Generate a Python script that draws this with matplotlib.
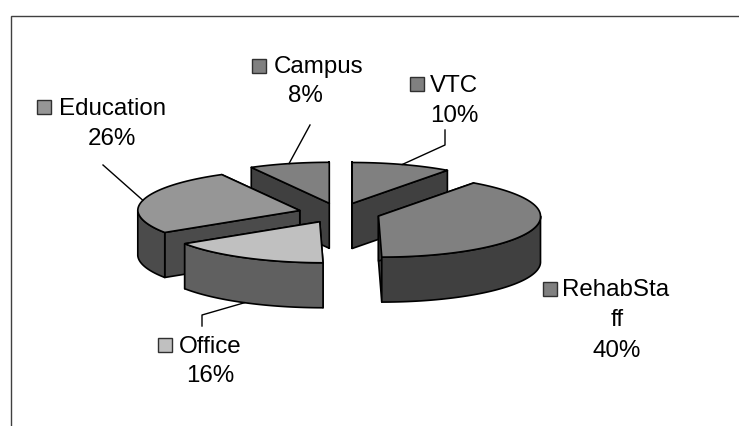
# Exploded 3D pie chart, drawn by hand in pixel coordinates

import matplotlib.pyplot as plt
import numpy as np
from matplotlib.patches import Polygon, Rectangle

plt.rcParams["font.family"] = ["Liberation Sans", "DejaVu Sans"]

# Chart values, clockwise from 12 o'clock
labels = ["VTC", "RehabStaff", "Office", "Education", "Campus"]
shares = [10, 40, 16, 26, 8]

# Colours of the top and the side of each slice
top_colors = ["#808080", "#808080", "#C0C0C0", "#969696", "#808080"]
side_colors = ["#404040", "#404040", "#606060", "#4B4B4B", "#404040"]

# Pie geometry, in pixels
center_x, center_y = 339.5, 213
radius_x, radius_y = 162, 41
explode_x, explode_y = 41, 10
depth = 45
shear = 0.08

# Label layout: marker x/y, text lines, line x, line y, leader elbow points
label_layout = {
    "VTC": ((410, 77), ["10%"], (454, 116), (430, 86), [(445, 145), (445, 130)]),
    "RehabStaff": ((543, 282), ["ff", "40%"], (617, 320), (562, 290), []),
    "Office": ((158, 338), ["16%"], (210, 376), (179, 347), [(202, 315), (202, 326)]),
    "Education": ((37, 100), ["26%"], (112, 139), (59, 109), [(103, 165)]),
    "Campus": ((252, 59), ["8%"], (305, 96), (274, 67), [(310, 125)]),
}
first_lines = {"RehabStaff": "RehabSta"}


def rim_point(apex, angle):
    """Point on the top rim of a slice, angle in degrees clockwise from the top."""
    a = np.radians(angle)
    y = -radius_y * np.cos(a)
    return np.array([apex[0] + radius_x * np.sin(a) + shear * max(y, 0), apex[1] + y])


def draw_face(ax, points, color):
    ax.add_patch(Polygon(points, closed=True, facecolor=color, edgecolor="black",
                         linewidth=1.2, joinstyle="round"))


fig = plt.figure(figsize=(7.39, 4.26), dpi=100)
ax = fig.add_axes([0, 0, 1, 1])
ax.set_xlim(0, 739)
ax.set_ylim(426, 0)
ax.axis("off")

# Chart frame runs off the right and bottom of the picture
ax.add_patch(Rectangle((11, 16), 760, 440, facecolor="white", edgecolor="#404040", linewidth=1))

# Work out the angle range and the exploded apex of each slice
edges = np.concatenate([[0], np.cumsum(shares)]) * 3.6
apexes = []
for i in range(len(shares)):
    mid = np.radians((edges[i] + edges[i + 1]) / 2)
    apexes.append((center_x + explode_x * np.sin(mid), center_y - explode_y * np.cos(mid)))

# Back slices first, so the front ones paint over them
for i in [4, 0, 3, 1, 2]:
    apex = np.array(apexes[i])
    start, end = edges[i], edges[i + 1]
    down = np.array([0, depth])

    # Cut faces
    for angle in [end, start]:
        p = rim_point(apex, angle)
        draw_face(ax, [apex, p, p + down, apex + down], side_colors[i])

    # Outer wall, only the part that faces the viewer
    lo, hi = max(start, 90), min(end, 270)
    if lo < hi:
        angles = np.linspace(lo, hi, 60)
        upper = [rim_point(apex, a) for a in angles]
        lower = [p + down for p in reversed(upper)]
        draw_face(ax, upper + lower, side_colors[i])

    # Top of the slice
    angles = np.linspace(start, end, 80)
    draw_face(ax, [apex] + [rim_point(apex, a) for a in angles], top_colors[i])

# Leader lines and labels
for i, name in enumerate(labels):
    marker, lines, line_xy, text_xy, elbow = label_layout[name]
    apex = np.array(apexes[i])
    if elbow:
        p = rim_point(apex, (edges[i] + edges[i + 1]) / 2)
        if name == "Office":
            p = p + np.array([0, depth])
        xs = [p[0]] + [e[0] for e in elbow]
        ys = [p[1]] + [e[1] for e in elbow]
        ax.plot(xs, ys, color="black", linewidth=1)

    ax.add_patch(Rectangle(marker, 14, 14, facecolor=top_colors[i], edgecolor="#303030", linewidth=1))
    ax.text(text_xy[0], text_xy[1], first_lines.get(name, name), fontsize=17.4,
            ha="left", va="center", color="black")
    for k, line in enumerate(lines):
        ax.text(line_xy[0], line_xy[1] + k * 31, line, fontsize=17.4,
                ha="center", va="center", color="black")

fig.savefig("out.png", dpi=100)
